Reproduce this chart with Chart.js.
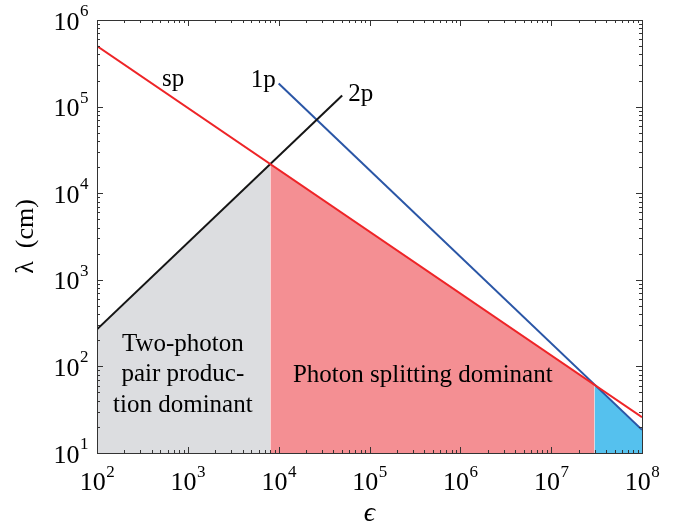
<!DOCTYPE html>
<html lang="en">
<head>
    <meta charset="UTF-8">
    <title>Photon splitting vs. pair production</title>
    <script src="https://cdn.jsdelivr.net/npm/chart.js"></script>
    <style>
        body { margin: 0; background: #fff; }
        .wrap { width: 675px; height: 524px; position: relative; }
    </style>
</head>
<body>
    <div class="wrap"><canvas id="regimeChart"></canvas></div>

    <script>
        // Curves: photon energy epsilon (x) vs. length lambda in cm (y)
        const spEps = [1e2, 1e8];
        const spLam = [5.0e5, 25.9];
        const twoPEps = [1e2, 5e4];
        const twoPLam = [268, 1.34e5];
        const onePEps = [1e4, 1e8];
        const onePLam = [1.85e5, 18.5];

        // Shaded regimes (bounded by the curves above)
        const grayEps = [1e2, 8.1e3];
        const grayLam = [268, 2.17e4];
        const pinkEps = [8.1e3, 3.0e7];
        const pinkLam = [2.17e4, 60.9];
        const blueEps = [3.0e7, 1e8];
        const blueLam = [61.7, 18.5];

        // Axis decades
        const xDecades = [2, 3, 4, 5, 6, 7, 8];
        const yDecades = [1, 2, 3, 4, 5, 6];

        const serif = '"Liberation Serif", serif';

        const pts = (xs, ys) => xs.map((x, i) => ({ x: x, y: ys[i] }));

        function lineSet(label, xs, ys, color) {
            return { label, data: pts(xs, ys), borderColor: color, borderWidth: 2,
                     pointRadius: 0, fill: false, tension: 0, order: 0 };
        }
        function areaSet(label, xs, ys, color) {
            return { label, data: pts(xs, ys), backgroundColor: color, borderWidth: 0,
                     borderColor: 'transparent', pointRadius: 0, fill: 'start', tension: 0, order: 1 };
        }

        // Labels in data coordinates
        const curveLabels = [
            { text: 'sp', x: 520, y: 1.73e5 },
            { text: '1p', x: 4.93e3, y: 1.68e5 },
            { text: '2p', x: 5.82e4, y: 1.16e5 }
        ];
        const regionLabels = [
            { lines: ['Two-photon', 'pair produc-', 'tion dominant'], x: 881, y: 152 },
            { lines: ['Photon splitting dominant'], x: 3.86e5, y: 66.5 }
        ];

        // Frame, inward ticks, 10^n labels, axis titles, annotations
        const decorPlugin = {
            id: 'decor',
            afterDatasetsDraw(chart) {
                const ctx = chart.ctx;
                const a = chart.chartArea;
                const xs = chart.scales.x, ys = chart.scales.y;
                ctx.save();

                ctx.strokeStyle = '#333';
                ctx.lineWidth = 1;
                ctx.beginPath();
                // x ticks (bottom and top)
                xDecades.forEach(d => {
                    for (let m = 1; m <= 9; m++) {
                        const v = m * Math.pow(10, d);
                        if (v > 1e8 * 1.0001) break;
                        const px = Math.round(xs.getPixelForValue(v)) + 0.5;
                        const len = m === 1 ? 6 : 3;
                        ctx.moveTo(px, a.bottom); ctx.lineTo(px, a.bottom - len);
                        ctx.moveTo(px, a.top); ctx.lineTo(px, a.top + len);
                    }
                });
                // y ticks (left and right)
                yDecades.forEach(d => {
                    for (let m = 1; m <= 9; m++) {
                        const v = m * Math.pow(10, d);
                        if (v > 1e6 * 1.0001) break;
                        const py = Math.round(ys.getPixelForValue(v)) + 0.5;
                        const len = m === 1 ? 6 : 3;
                        ctx.moveTo(a.left, py); ctx.lineTo(a.left + len, py);
                        ctx.moveTo(a.right, py); ctx.lineTo(a.right - len, py);
                    }
                });
                ctx.stroke();
                ctx.strokeRect(Math.round(a.left) + 0.5, Math.round(a.top) + 0.5,
                               Math.round(a.right - a.left), Math.round(a.bottom - a.top));

                // tick labels "10^n"
                ctx.fillStyle = '#000';
                ctx.textBaseline = 'alphabetic';
                ctx.textAlign = 'left';
                function pow10(n, cx, baseY, mode) {
                    ctx.font = '26px ' + serif;
                    const wb = ctx.measureText('10').width;
                    ctx.font = '17px ' + serif;
                    const we = ctx.measureText(String(n)).width;
                    const left = mode === 'center' ? cx - (wb + we) / 2 : cx - (wb + we);
                    ctx.font = '26px ' + serif;
                    ctx.fillText('10', left, baseY);
                    ctx.font = '17px ' + serif;
                    ctx.fillText(String(n), left + wb + 0.5, baseY - 13.5);
                }
                xDecades.forEach(d => {
                    pow10(d, xs.getPixelForValue(Math.pow(10, d)), a.bottom + 37, 'center');
                });
                yDecades.forEach(d => {
                    pow10(d, a.left - 9, ys.getPixelForValue(Math.pow(10, d)) + 9.5, 'right');
                });

                // axis titles
                ctx.textAlign = 'center';
                ctx.font = 'italic 28px ' + serif;
                ctx.fillText('\u03F5', (a.left + a.right) / 2, 521);
                ctx.save();
                ctx.translate(33, (a.top + a.bottom) / 2);
                ctx.rotate(-Math.PI / 2);
                ctx.font = '26px ' + serif;
                ctx.fillText('\u03BB  (cm)', 0, 0);
                ctx.restore();

                // curve and region labels
                ctx.font = '25px ' + serif;
                ctx.textAlign = 'left';
                curveLabels.forEach(l => {
                    ctx.fillText(l.text, xs.getPixelForValue(l.x), ys.getPixelForValue(l.y));
                });
                ctx.textAlign = 'center';
                regionLabels.forEach(l => {
                    const px = xs.getPixelForValue(l.x);
                    const py = ys.getPixelForValue(l.y);
                    l.lines.forEach((s, i) => ctx.fillText(s, px, py + i * 30.5));
                });
                ctx.restore();
            }
        };

        new Chart(document.getElementById('regimeChart'), {
            type: 'line',
            data: {
                datasets: [
                    lineSet('sp', spEps, spLam, '#ee2427'),
                    lineSet('2p', twoPEps, twoPLam, '#151515'),
                    lineSet('1p', onePEps, onePLam, '#2a56a6'),
                    areaSet('two-photon', grayEps, grayLam, '#dcdde0'),
                    areaSet('splitting', pinkEps, pinkLam, '#f48f93'),
                    areaSet('one-photon', blueEps, blueLam, '#55c1ee')
                ]
            },
            options: {
                responsive: true,
                maintainAspectRatio: false,
                animation: false,
                layout: { padding: { left: 97, right: 33, top: 20, bottom: 71 } },
                scales: {
                    x: { type: 'logarithmic', min: 1e2, max: 1e8, display: false },
                    y: { type: 'logarithmic', min: 1e1, max: 1e6, display: false }
                },
                plugins: {
                    legend: { display: false },
                    tooltip: { enabled: false }
                }
            },
            plugins: [decorPlugin]
        });
    </script>
</body>
</html>
